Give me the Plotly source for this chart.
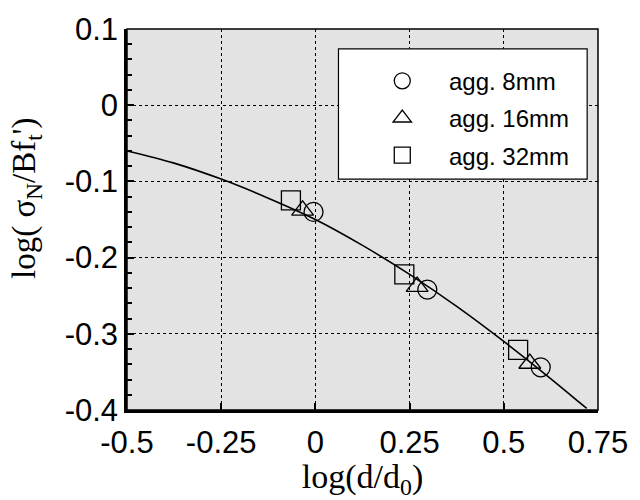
import plotly.graph_objects as go

# Measured points
x_8mm = [-0.005, 0.297, 0.598]
y_8mm = [-0.140, -0.242, -0.344]
x_16mm = [-0.034, 0.270, 0.569]
y_16mm = [-0.138, -0.238, -0.339]
x_32mm = [-0.065, 0.236, 0.538]
y_32mm = [-0.125, -0.222, -0.321]

# Fitted curve
curve_x = [-0.5, -0.375, -0.25, -0.125, 0.0, 0.125, 0.25, 0.375, 0.5, 0.625, 0.72]
curve_y = [-0.060, -0.076, -0.097, -0.122, -0.150, -0.184, -0.222, -0.264, -0.310, -0.359, -0.398]

x_ticks = [-0.5, -0.25, 0, 0.25, 0.5, 0.75]
x_ticktext = ["-0.5", "-0.25", "0", "0.25", "0.5", "0.75"]
y_ticks = [-0.4, -0.3, -0.2, -0.1, 0, 0.1]
y_ticktext = ["-0.4", "-0.3", "-0.2", "-0.1", "0", "0.1"]

nb = "\u00a0" * 4
serif = "Liberation Serif, Times New Roman, serif"

fig = go.Figure()
fig.add_trace(go.Scatter(x=curve_x, y=curve_y, mode="lines",
                         line=dict(color="black", width=1.6, shape="spline"),
                         showlegend=False, hoverinfo="skip"))
fig.add_trace(go.Scatter(x=x_32mm, y=y_32mm, mode="markers", name=nb + "agg. 32mm",
                         legendgroup="c", legendrank=3,
                         marker=dict(symbol="square-open", size=19, color="black", line=dict(width=1.3))))
fig.add_trace(go.Scatter(x=x_16mm, y=y_16mm, mode="markers", name=nb + "agg. 16mm",
                         legendgroup="b", legendrank=2,
                         marker=dict(symbol="triangle-up-open", size=19, color="black", line=dict(width=1.3))))
fig.add_trace(go.Scatter(x=x_8mm, y=y_8mm, mode="markers", name=nb + "agg. 8mm",
                         legendgroup="a", legendrank=1,
                         marker=dict(symbol="circle-open", size=19, color="black", line=dict(width=1.3))))
# empty trace to carry the minor-tick axis
fig.add_trace(go.Scatter(x=[], y=[], yaxis="y2", showlegend=False, hoverinfo="skip"))

fig.update_layout(
    width=640, height=500,
    margin=dict(l=127, r=36, t=28, b=86),
    paper_bgcolor="white",
    plot_bgcolor="#e3e3e3",
    font=dict(family="Liberation Sans, Arial, sans-serif", color="black"),
    showlegend=True,
    legend=dict(x=0.542, y=0.922, xanchor="left", yanchor="top",
                bgcolor="rgba(0,0,0,0)", borderwidth=0,
                font=dict(size=24, family="Liberation Sans, Arial, sans-serif"),
                tracegroupgap=3, traceorder="grouped"),
    shapes=[
        dict(type="rect", xref="paper", yref="paper", x0=0.449, x1=0.977, y0=0.606, y1=0.948,
             fillcolor="white", line=dict(color="black", width=1.2), layer="above"),
        dict(type="rect", xref="paper", yref="paper", x0=0, x1=1, y0=0, y1=1,
             fillcolor="rgba(0,0,0,0)", line=dict(color="black", width=1.5), layer="above"),
    ],
    annotations=[
        dict(text="log( σ<sub>N</sub>/Bf<sub>t</sub>')", textangle=-90, xref="paper", yref="paper",
             x=0, y=0.554, xanchor="center", yanchor="middle", xshift=-100, showarrow=False,
             font=dict(family=serif, size=33)),
    ],
    yaxis2=dict(overlaying="y", anchor="x", side="left", range=[-0.4, 0.1],
                tickmode="linear", tick0=0, dtick=0.02, ticks="inside", ticklen=5,
                tickwidth=2, tickcolor="black", showticklabels=False, showgrid=False,
                zeroline=False, showline=False),
)

fig.update_xaxes(
    range=[-0.5, 0.75], tickmode="array", tickvals=x_ticks, ticktext=x_ticktext,
    showgrid=True, gridcolor="black", griddash="dot", gridwidth=1,
    zeroline=False, showline=True, linecolor="black", linewidth=2.5,
    ticks="inside", ticklen=7, tickwidth=2, tickcolor="black",
    tickfont=dict(size=31), ticklabelstandoff=3,
    title=dict(text="log(d/d<sub>0</sub>)", font=dict(family=serif, size=34), standoff=4),
)
fig.layout.yaxis.update(
    range=[-0.4, 0.1], tickmode="array", tickvals=y_ticks, ticktext=y_ticktext,
    showgrid=True, gridcolor="black", griddash="dot", gridwidth=1,
    zeroline=False, showline=True, linecolor="black", linewidth=2.5,
    ticks="inside", ticklen=7, tickwidth=2, tickcolor="black",
    tickfont=dict(size=31),
)

fig.write_html("out.html")
